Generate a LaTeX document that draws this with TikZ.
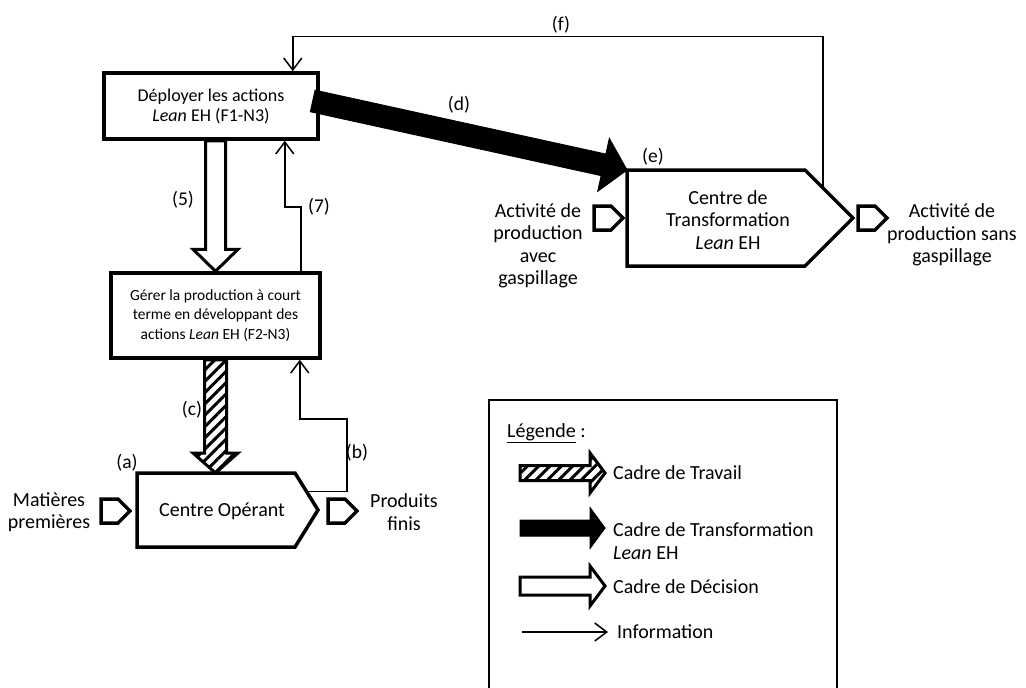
\documentclass[tikz,border=0pt]{standalone}
\usepackage{fontspec}
\setmainfont{Carlito}
\usetikzlibrary{calc,arrows.meta,patterns.meta}

% Broad block arrow from #2 to #3: style #1, shaft half-width #4,
% head half-width #5, head length #6
\newcommand\fatarrow[6]{%
  \coordinate (fa-base) at ($(#3)!#6!(#2)$);
  \path[#1] ($(#2)!#4!90:(#3)$) -- ($(fa-base)!#4!-90:(#2)$)
    -- ($(fa-base)!#5!-90:(#2)$) -- (#3) -- ($(fa-base)!#5!90:(#2)$)
    -- ($(fa-base)!#4!90:(#2)$) -- ($(#2)!#4!-90:(#3)$) -- cycle;}

% Small flow tag, given by the middle of its left side
\newcommand\tagmark[1]{%
  \draw[tagline] ($(#1)+(0,-12)$) -- ++(17,0) -- ++(12,12) -- ++(-12,12)
    -- ++(-17,0) -- cycle;}

\tikzset{
  box/.style={draw, line width=3.5pt, fill=white, align=center, inner sep=0pt},
  shapebox/.style={inner sep=0pt, outer sep=0pt},
  boxline/.style={line width=3.5pt, line join=miter, fill=white},
  tagline/.style={line width=3.5pt, line join=miter},
  info/.style={line width=1.5pt, -{Straight Barb[length=12pt,width=18pt]}},
  decision/.style={draw, fill=white, line width=3pt, line join=miter},
  work/.style={draw, line width=3pt, line join=miter,
    pattern={Lines[angle=45,distance=8pt,line width=3pt]}},
  transf/.style={draw, fill=black, line width=1pt, line join=miter},
  big/.style={font=\fontsize{20}{22.5}\selectfont, align=center},
  lbl/.style={font=\fontsize{19.5}{21}\selectfont},
  legtxt/.style={font=\fontsize{20}{22.5}\selectfont, anchor=west, align=left, inner sep=0pt}
}

\begin{document}
\begin{tikzpicture}[x=1pt,y=-1pt]
\useasboundingbox (0,0) rectangle (1026,688);
\fill[white] (0,0) rectangle (1026,688);

% decision boxes
\node[box, minimum width=214pt, minimum height=66pt,
  font=\fontsize{18}{20}\selectfont] (dep) at (211,106)
  {Déployer les actions\\\textit{Lean} EH (F1-N3)};
\node[box, minimum width=209pt, minimum height=85pt,
  font=\fontsize{15.5}{19.5}\selectfont] (ger) at (215.5,315.5)
  {Gérer la production à court\\terme en développant des\\actions \textit{Lean} EH (F2-N3)};

% operating centre
\node[shapebox, minimum width=181pt, minimum height=74pt] (co) at (227.5,510) {};
\coordinate (cok) at ($(co.north east)+(-23,0)$);
\draw[boxline] (co.north west) -- (cok) -- (co.east)
  -- ($(co.south east)+(-23,0)$) -- (co.south west) -- cycle;
\node[big] (cotxt) at (222,511) {Centre Opérant};

% transformation centre
\node[shapebox, minimum width=226pt, minimum height=96pt] (tr) at (740,218) {};
\coordinate (trk) at ($(tr.north east)+(-48,0)$);
\draw[boxline] (tr.north west) -- (trk) -- (tr.east)
  -- ($(tr.south east)+(-48,0)$) -- (tr.south west) -- cycle;
\node[big] (trtxt) at (728,220) {Centre de\\Transformation\\\textit{Lean} EH};

% inputs and outputs
\coordinate (in1) at (101,511);  \tagmark{in1}
\coordinate (out1) at (328,511); \tagmark{out1}
\coordinate (in2) at (594,218);  \tagmark{in2}
\coordinate (out2) at (858,218); \tagmark{out2}
\node[big] (mp) at (49,512) {Matières\\premières};
\node[big] (pf) at (404,512) {Produits\\finis};
\node[big] (avec) at (538,246) {Activité de\\production\\avec\\gaspillage};
\node[big] (sans) at (952,235) {Activité de\\production sans\\gaspillage};

% decision frame (5)
\coordinate (d5) at (dep.south -| ger.north);
\fatarrow{decision}{d5}{ger.north}{10pt}{22.5pt}{22pt}

% work frame (c)
\coordinate (wc) at (ger.south |- co.north);
\fatarrow{work}{ger.south}{wc}{11pt}{22.5pt}{20pt}

% transformation frame (d)
\coordinate (dd) at ($(dep.east)+(-7,-5)$);
\fatarrow{transf}{dd}{tr.north west}{11pt}{27pt}{24pt}

% information flows
\draw[info] ($(ger.north east)+(-21,0)$) |- ($(dep.south east)+(-35,66)$)
  -- ($(dep.south east)+(-35,0)$);
\coordinate (bs) at ($(cok)!0.5!(co.east)$);
\draw[info] (bs) -| ($(ger.south east)+(25,59)$) -| ($(ger.south east)+(-22,0)$);
\coordinate (fs) at ($(trk)!0.375!(tr.east)$);
\draw[info] (fs) |- ($(dep.north east)+(-27,-35)$) -- ($(dep.north east)+(-27,0)$);

% labels
\node[lbl] (l5) at (183,200) {(5)};
\node[lbl] (l7) at (319,207) {(7)};
\node[lbl] (lc) at (192,410) {(c)};
\node[lbl] (la) at (127,463) {(a)};
\node[lbl] (lb) at (357,453) {(b)};
\node[lbl] (ld) at (459,105) {(d)};
\node[lbl] (le) at (653,157) {(e)};
\node[lbl] (lf) at (561,25) {(f)};

% legend
\draw[line width=2pt] (489,690) |- (837,400) -- (837,690);
\node[legtxt] (legt) at (507,433) {\underline{Légende} :};
\coordinate (k1a) at (520,473); \coordinate (k1b) at (605,473);
\fatarrow{work}{k1a}{k1b}{7.5pt}{20pt}{15pt}
\node[legtxt] (k1t) at (613,473) {Cadre de Travail};
\coordinate (k2a) at (520,528); \coordinate (k2b) at (605,528);
\fatarrow{transf}{k2a}{k2b}{8pt}{20.5pt}{15pt}
\node[legtxt] (k2t) at (613,541) {Cadre de Transformation\\\textit{Lean} EH};
\coordinate (k3a) at (520,586); \coordinate (k3b) at (605,586);
\fatarrow{decision}{k3a}{k3b}{9pt}{20pt}{15pt}
\node[legtxt] (k3t) at (613,587) {Cadre de Décision};
\coordinate (k4a) at (522,632); \coordinate (k4b) at (608,632);
\draw[info] (k4a) -- (k4b);
\node[legtxt] (k4t) at (617,632) {Information};
\end{tikzpicture}
\end{document}
